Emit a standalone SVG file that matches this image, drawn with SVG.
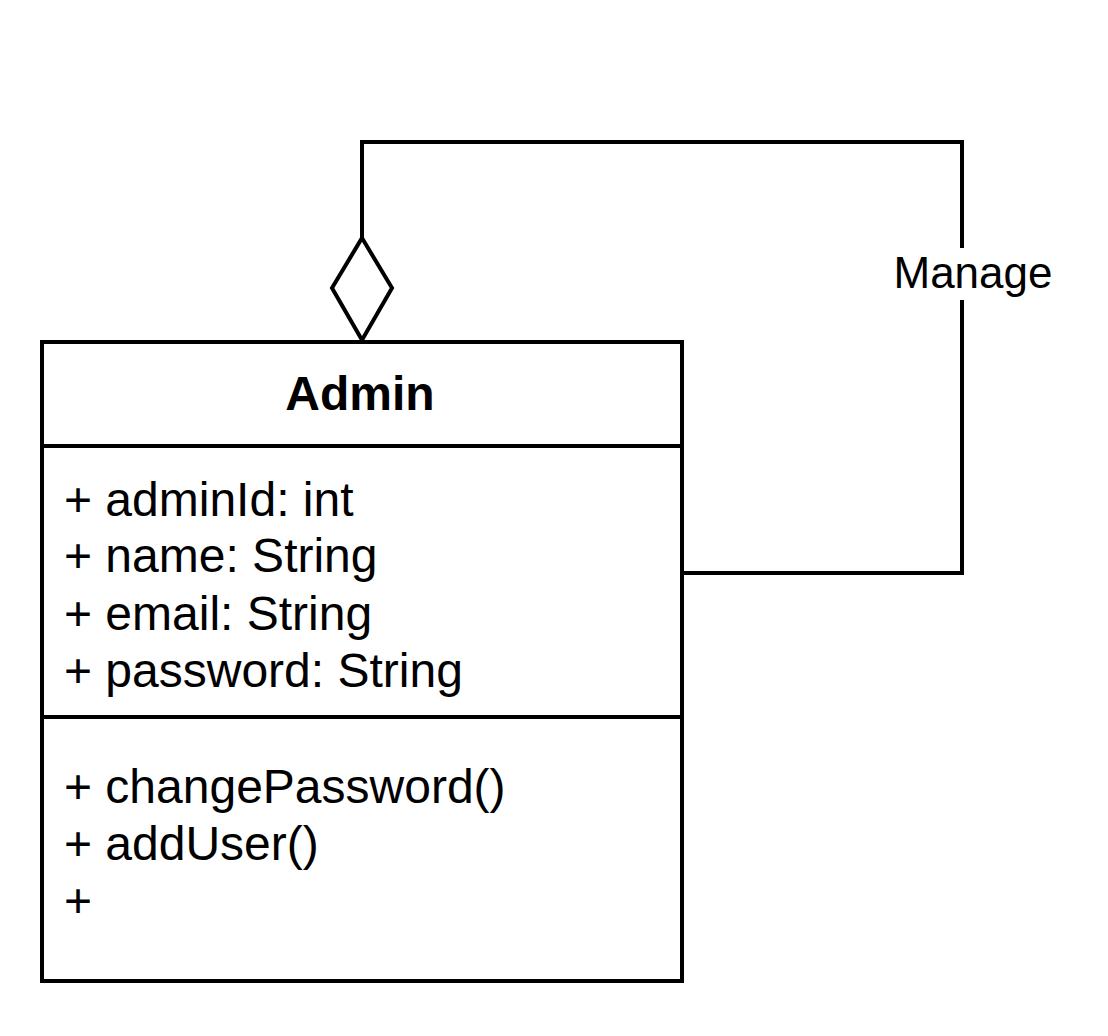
<svg xmlns="http://www.w3.org/2000/svg" width="1108" height="1036" viewBox="0 0 1108 1036">
<style>
.ln{fill:none;stroke:#000;stroke-width:4;}
.t{font-family:"Liberation Sans",Arial,sans-serif;font-size:48px;fill:#000;}
.b{font-weight:bold;}
.lbl{font-size:44px;}
</style>
<rect width="1108" height="1036" fill="#fff"/>
<g id="connectors">
<path class="ln" d="M682 573 L962 573 L962 300 M962 248 L962 142 L362 142 L362 238"/>
<polygon class="ln" points="362,238 392,288 362,340 332,288" style="fill:#fff"/>
<text class="t lbl" x="973" y="288" text-anchor="middle">Manage</text>
</g>
<g id="admin">
<rect class="ln" x="42" y="342" width="640" height="639"/>
<line class="ln" x1="42" y1="446" x2="682" y2="446"/>
<line class="ln" x1="42" y1="717" x2="682" y2="717"/>
<text class="t b" x="360" y="410" text-anchor="middle">Admin</text>
<text class="t" x="64" y="516">+ adminId: int</text>
<text class="t" x="64" y="572">+ name: String</text>
<text class="t" x="64" y="630">+ email: String</text>
<text class="t" x="64" y="687">+ password: String</text>
<text class="t" x="64" y="803">+ changePassword()</text>
<text class="t" x="64" y="860">+ addUser()</text>
<text class="t" x="64" y="917">+</text>
</g>
</svg>
